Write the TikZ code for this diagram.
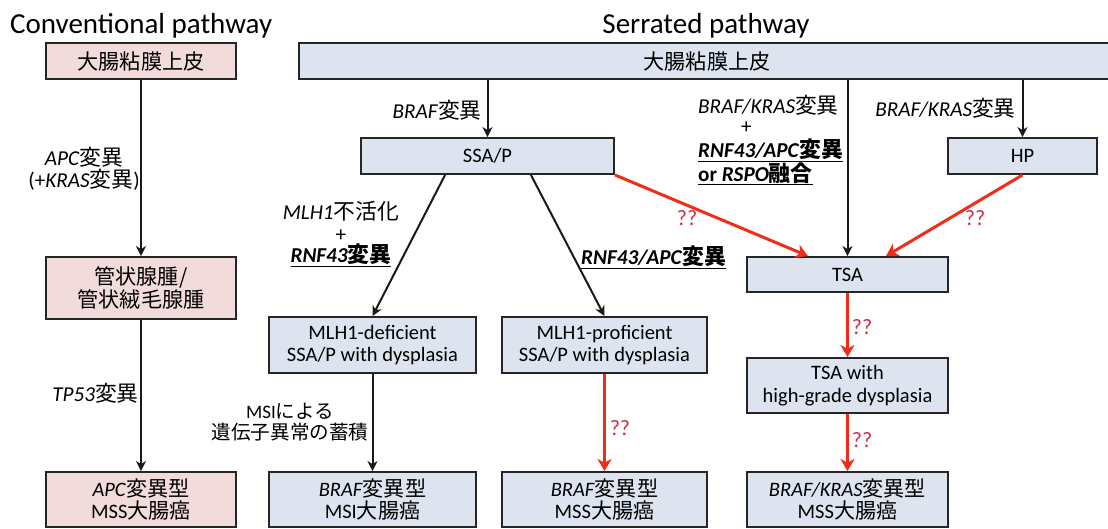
\documentclass[tikz,border=0pt]{standalone}
\usepackage{fontspec}
\setmainfont{Carlito}
\newfontfamily\jpf{Noto Sans CJK JP}[Scale=1.03]
\newcommand{\J}[1]{{\jpf #1}}
\usetikzlibrary{arrows.meta}
\definecolor{pinkfill}{RGB}{242,220,219}
\definecolor{bluefill}{RGB}{221,228,239}
\definecolor{redarrow}{RGB}{240,45,25}
\definecolor{qcol}{RGB}{205,45,75}
\begin{document}
\begin{tikzpicture}[x=1pt,y=-1pt,
  basebox/.style={draw=black!85,line width=1.9pt,inner sep=0pt,align=center,
    font=\fontsize{20.5}{22.5}\selectfont},
  pinkbox/.style={basebox,fill=pinkfill},
  bluebox/.style={basebox,fill=bluefill},
  blk/.style={draw=black!90,line width=2pt,-{Stealth[length=10pt,width=10pt,inset=3pt]}},
  redarr/.style={draw=redarrow,line width=3pt,-{Stealth[length=12pt,width=14pt,inset=3.5pt]}},
  lbl/.style={inner sep=0pt,align=center,font=\fontsize{21.2}{21.5}\selectfont},
  qq/.style={inner sep=0pt,text=qcol,font=\fontsize{22}{22}\selectfont},
  title/.style={inner sep=0pt,font=\fontsize{29}{31}\selectfont}]
\useasboundingbox (0,0) rectangle (1108,528);

% titles
\node[title,anchor=base west] (t1) at (10,33) {Conventional pathway};
\node[title,anchor=base] (t2) at (706,33) {Serrated pathway};

% conventional pathway
\node[pinkbox,minimum width=190pt,minimum height=36pt] (c1) at (141,61) {\J{大腸粘膜上皮}};
\node[pinkbox,minimum width=190pt,minimum height=62pt] (c2) at (141,288) {\J{管状腺腫/}\\\J{管状絨毛腺腫}};
\node[pinkbox,minimum width=190pt,minimum height=55pt] (c3) at (141,499.5) {\textit{APC}\J{変異型}\\MSS\J{大腸癌}};

% serrated pathway
\node[bluebox,minimum width=816pt,minimum height=36pt] (top) at (707,61) {\J{大腸粘膜上皮}};
\node[bluebox,minimum width=253pt,minimum height=36pt] (ssap) at (487.5,156) {SSA/P};
\node[bluebox,minimum width=149pt,minimum height=36pt] (hp) at (1022.5,156) {HP};
\node[bluebox,minimum width=201pt,minimum height=35pt] (tsa) at (847.5,274.5) {TSA};
\node[bluebox,minimum width=207pt,minimum height=56pt] (def) at (372.5,345) {MLH1-deficient\\SSA/P with dysplasia};
\node[bluebox,minimum width=205pt,minimum height=56pt] (prof) at (604.5,345) {MLH1-proficient\\SSA/P with dysplasia};
\node[bluebox,minimum width=201pt,minimum height=55pt] (hgd) at (847.5,385.5) {TSA with\\high-grade dysplasia};
\node[bluebox,minimum width=207pt,minimum height=55pt] (msi) at (372.5,499.5) {\textit{BRAF}\J{変異型}\\MSI\J{大腸癌}};
\node[bluebox,minimum width=205pt,minimum height=55pt] (mss1) at (604.5,499.5) {\textit{BRAF}\J{変異型}\\MSS\J{大腸癌}};
\node[bluebox,minimum width=201pt,minimum height=55pt] (mss2) at (847.5,499.5) {\textit{BRAF/KRAS}\J{変異型}\\MSS\J{大腸癌}};

% black arrows
\draw[blk] (c1.south) -- (c2.north);
\draw[blk] (c2.south) -- (c3.north);
\draw[blk] (ssap.north |- top.south) -- (ssap.north);
\draw[blk] (tsa.north |- top.south) -- (tsa.north);
\draw[blk] (hp.north |- top.south) -- (hp.north);
\draw[blk] ([xshift=85pt]ssap.south west) -- (def.north);
\draw[blk] ([xshift=-84pt]ssap.south east) -- (prof.north);
\draw[blk] (def.south) -- (msi.north);

% red arrows
\draw[redarr] (ssap.south east) -- ([xshift=-39.5pt]tsa.north);
\draw[redarr] (hp.south) -- ([xshift=38.5pt]tsa.north);
\draw[redarr] (tsa.south) -- (hgd.north);
\draw[redarr] (hgd.south) -- (mss2.north);
\draw[redarr] (prof.south) -- (mss1.north);

% labels
\node[lbl,anchor=east] (l1) at (140,169) {\textit{APC}\J{変異}\\(+\textit{KRAS}\J{変異})};
\node[lbl,anchor=east] (l2) at (139,393) {\textit{TP53}\J{変異}};
\node[lbl,anchor=east] (l3) at (482,110) {\textit{BRAF}\J{変異}};
\node[lbl] (l4) at (341,234) {\textit{MLH1}\J{不活化}\\+\\\underline{\textbf{\textit{RNF43}\J{変異}}}};
\node[lbl,anchor=west] (l5) at (581,257) {\underline{\textbf{\textit{RNF43/APC}\J{変異}}}};
\node[lbl,anchor=west,align=left,font=\fontsize{21.2}{20}\selectfont] (l6) at (698,140)
  {\textit{BRAF/KRAS}\J{変異}\\\hspace*{43pt}+\\[4pt]\underline{\textbf{\textit{RNF43/APC}\J{変異}}}\\\underline{\textbf{or \textit{RSPO}\J{融合}}}};
\node[lbl,anchor=east] (l7) at (1016,108) {\textit{BRAF/KRAS}\J{変異}};
\node[lbl,font=\fontsize{19}{20.5}\selectfont] (l8) at (290,422) {MSI\J{による}\\\J{遺伝子異常の蓄積}};

% question marks
\node[qq] (q1) at (687,218) {??};
\node[qq] (q2) at (975,218) {??};
\node[qq] (q3) at (862,327) {??};
\node[qq] (q4) at (862,440) {??};
\node[qq] (q5) at (620,428) {??};
\end{tikzpicture}
\end{document}
